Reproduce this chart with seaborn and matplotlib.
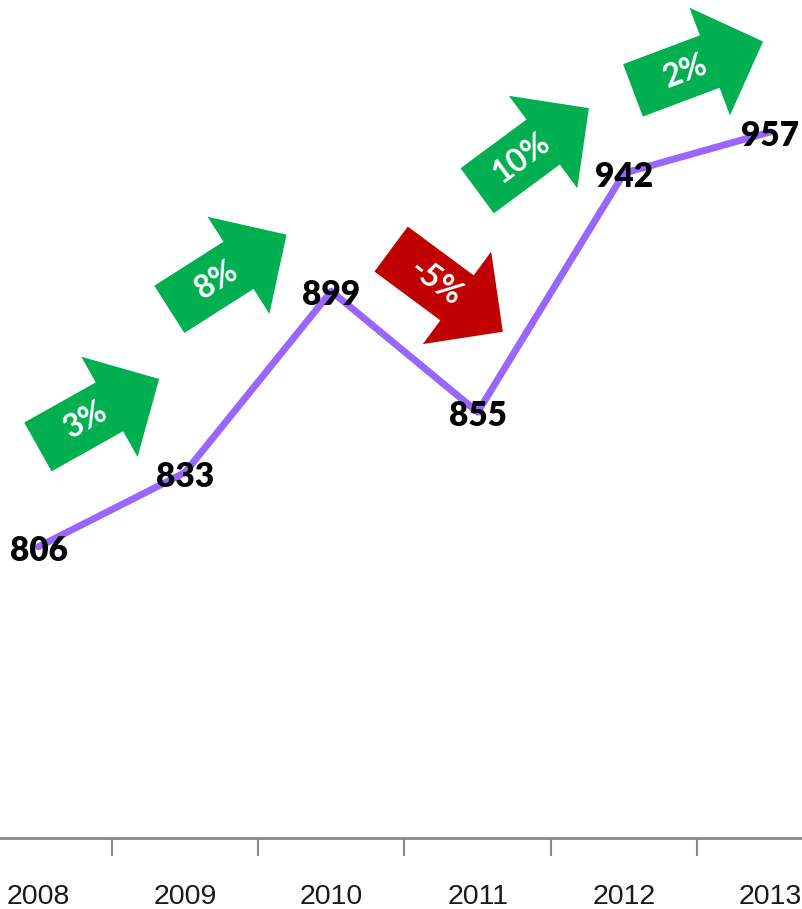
import numpy as np
import pandas as pd
import matplotlib
matplotlib.use("Agg")
import matplotlib.pyplot as plt
import matplotlib.transforms as mtransforms
from matplotlib.patches import Polygon
import seaborn as sns

# data
years = ["2008", "2009", "2010", "2011", "2012", "2013"]
values = [806, 833, 899, 855, 942, 957]

# change arrows (one per year-to-year step): x shift from the step midpoint,
# height in data units, tilt in degrees
arrow_dx = [-0.09, -0.206, 0.29, -0.122, 0.005]
arrow_y = [854.7, 906, 899.3, 950.6, 981]
arrow_angle = [29.3, 32.5, -36.5, 36.5, 20.6]

df = pd.DataFrame({"pos": np.arange(len(years)), "value": values})
pct = [round((b - a) / a * 100) for a, b in zip(values[:-1], values[1:])]

sns.set_style("white")
plt.rcParams["font.family"] = ["Lato", "DejaVu Sans"]

fig = plt.figure(figsize=(8.03, 9.09), dpi=100)
ax = fig.add_axes([0, 71 / 909, 1, 838 / 909])

sns.lineplot(data=df, x="pos", y="value", color="#9966FF", linewidth=5, ax=ax)

for i, v in enumerate(values):
    ax.text(i, v - 1.5, str(v), ha="center", va="center", fontsize=24,
            fontweight="heavy", color="black", zorder=5)

# block arrow shape in pixels, pointing along +x
L, bw, hw, hl = 139, 28, 57.5, 57
shape = np.array([[-L / 2, -bw], [L / 2 - hl, -bw], [L / 2 - hl, -hw], [L / 2, 0],
                  [L / 2 - hl, hw], [L / 2 - hl, bw], [-L / 2, bw]])

for i, p in enumerate(pct):
    x = i + 0.5 + arrow_dx[i]
    y = arrow_y[i]
    ang = arrow_angle[i]
    col = "#00B050" if p >= 0 else "#C00000"
    tr = mtransforms.Affine2D().rotate_deg(ang) + mtransforms.ScaledTranslation(x, y, ax.transData)
    ax.add_patch(Polygon(shape, closed=True, facecolor=col, edgecolor="none",
                         transform=tr, zorder=3))
    off = mtransforms.Affine2D().rotate_deg(ang).transform((-14, 0))
    ttr = mtransforms.ScaledTranslation(x, y, ax.transData)
    ax.text(off[0], off[1], f"{p}%", transform=mtransforms.IdentityTransform() + ttr,
            rotation=ang, rotation_mode="anchor", ha="center", va="center",
            fontsize=23, fontweight="bold", color="white", zorder=4)

ax.set_xlim(-38.5 / 146.4, (803 - 38.5) / 146.4)
ax.set_ylim(700, 1005)
ax.set_xlabel("")
ax.set_ylabel("")
ax.set_yticks([])

ax.set_xticks(np.arange(len(years) - 1) + 0.5)
ax.set_xticklabels([])
ax.tick_params(axis="x", which="major", length=13, width=1.5, color="#888888",
               direction="out", bottom=True)
ax.set_xticks(np.arange(len(years)), minor=True)
ax.set_xticklabels(years, minor=True, fontsize=20.5, color="#1a1a1a",
                   family=["Liberation Sans", "DejaVu Sans"])
ax.tick_params(axis="x", which="minor", length=0, pad=33)

for s in ["top", "left", "right"]:
    ax.spines[s].set_visible(False)
ax.spines["bottom"].set_color("#888888")
ax.spines["bottom"].set_linewidth(2)

fig.savefig("out.png", dpi=100)
